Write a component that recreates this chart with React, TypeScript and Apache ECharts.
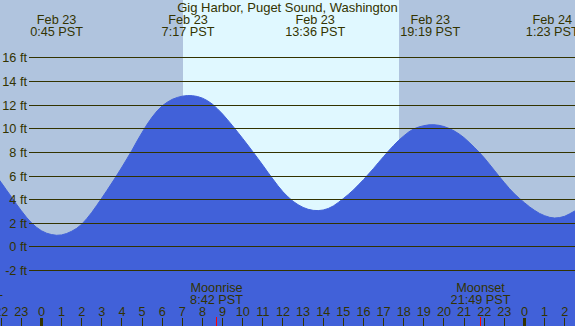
import React, { useEffect, useRef } from "react";
import * as echarts from "echarts";

const TITLE = "Gig Harbor, Puget Sound, Washington";

// hours from Feb 23 00:00 PST, read every quarter hour off the curve
const tideHours = [
  -2.5, -2.25, -2.0, -1.75, -1.5, -1.25, -1.0, -0.75, -0.5, -0.25, 0.0, 0.25, 0.5, 0.75, 1.0, 1.25, 1.5, 1.75,
  2.0, 2.25, 2.5, 2.75, 3.0, 3.25, 3.5, 3.75, 4.0, 4.25, 4.5, 4.75, 5.0, 5.25, 5.5, 5.75, 6.0, 6.25, 6.5, 6.75,
  7.0, 7.25, 7.5, 7.75, 8.0, 8.25, 8.5, 8.75, 9.0, 9.25, 9.5, 9.75, 10.0, 10.25, 10.5, 10.75, 11.0, 11.25, 11.5,
  11.75, 12.0, 12.25, 12.5, 12.75, 13.0, 13.25, 13.5, 13.75, 14.0, 14.25, 14.5, 14.75, 15.0, 15.25, 15.5, 15.75,
  16.0, 16.25, 16.5, 16.75, 17.0, 17.25, 17.5, 17.75, 18.0, 18.25, 18.5, 18.75, 19.0, 19.25, 19.5, 19.75, 20.0,
  20.25, 20.5, 20.75, 21.0, 21.25, 21.5, 21.75, 22.0, 22.25, 22.5, 22.75, 23.0, 23.25, 23.5, 23.75, 24.0, 24.25,
  24.5, 24.75, 25.0, 25.25, 25.5, 25.75, 26.0, 26.25, 26.5, 26.75, 27.0,
];
const tideFeet = [
  6.55, 5.98, 5.4, 4.8, 4.2, 3.59, 3.02, 2.47, 2.0, 1.62, 1.32, 1.12, 1.0, 0.94, 0.97, 1.09, 1.28, 1.53,
  1.88, 2.35, 2.88, 3.48, 4.1, 4.73, 5.38, 6.04, 6.72, 7.43, 8.15, 8.92, 9.65, 10.34, 10.95, 11.48, 11.9, 12.21,
  12.45, 12.61, 12.72, 12.77, 12.76, 12.69, 12.55, 12.33, 12.03, 11.64, 11.2, 10.71, 10.2, 9.67, 9.13, 8.58,
  8.02, 7.45, 6.87, 6.27, 5.7, 5.13, 4.62, 4.19, 3.82, 3.53, 3.3, 3.14, 3.05, 3.03, 3.08, 3.21, 3.42, 3.72,
  4.05, 4.4, 4.78, 5.21, 5.65, 6.12, 6.6, 7.11, 7.6, 8.09, 8.55, 8.98, 9.35, 9.69, 9.95, 10.11, 10.22, 10.29,
  10.3, 10.25, 10.15, 9.99, 9.78, 9.52, 9.2, 8.81, 8.4, 7.97, 7.5, 6.98, 6.45, 5.91, 5.4, 4.9, 4.45, 4.06,
  3.7, 3.35, 3.05, 2.79, 2.6, 2.46, 2.4, 2.44, 2.55, 2.76, 3.0, 3.3, 3.6,
];

const extremaHours = [0.75, 7.283, 13.6, 19.317, 25.383];
const extremaDates = ["Feb 23", "Feb 23", "Feb 23", "Feb 23", "Feb 24"];
const extremaTimes = ["0:45 PST", "7:17 PST", "13:36 PST", "19:19 PST", "1:23 PST"];

const hourTickValues = [
  -2, -1, 0, 1, 2, 3, 4, 5, 6, 7, 8, 9, 10, 11, 12, 13, 14, 15, 16, 17, 18, 19, 20, 21, 22, 23, 24, 25, 26,
];
const hourTickLabels = [
  "22", "23", "0", "1", "2", "3", "4", "5", "6", "7", "8", "9", "10", "11", "12", "13", "14", "15", "16", "17",
  "18", "19", "20", "21", "22", "23", "0", "1", "2",
];
const midnightHours = [0, 24];

const moonHours = [-3.417, 8.7, 21.817];
const moonNames = ["Moonset", "Moonrise", "Moonset"];
const moonTimes = ["20:35 PST", "8:42 PST", "21:49 PST"];

const sunriseHour = 7.03;
const sunsetHour = 17.77;

const gridFeet = [-2, 0, 2, 4, 6, 8, 10, 12, 14, 16];

const X_MIN = -2.062;
const X_MAX = 26.511;
const Y_MIN = -6.74;
const Y_MAX = 20.86;

const NIGHT = "#b0c4de";
const DAY = "#e0f8ff";
const WATER = "#4161d9";
const INK = "#333300";
const FONT_FAMILY = '"Liberation Sans", Arial, Helvetica, sans-serif';
const FS = 12.7;

function txt(text: string, x: number, y: number, align = "center") {
  return {
    type: "text",
    x,
    y,
    style: {
      text,
      fill: INK,
      fontSize: FS,
      fontFamily: FONT_FAMILY,
      align,
      verticalAlign: "middle",
    },
  };
}

export default function App() {
  const ref = useRef<HTMLDivElement>(null);

  useEffect(() => {
    if (!ref.current) return;
    const chart = echarts.init(ref.current, undefined, { renderer: "svg" });

    const option: any = {
      animation: false,
      backgroundColor: NIGHT,
      title: {
        text: TITLE,
        left: "center",
        top: 1,
        padding: 0,
        textStyle: { fontSize: 13, fontWeight: "normal", color: INK, fontFamily: FONT_FAMILY },
      },
      grid: { left: 0, right: 0, top: 0, bottom: 0 },
      xAxis: { type: "value", min: X_MIN, max: X_MAX, show: false },
      yAxis: { type: "value", min: Y_MIN, max: Y_MAX, show: false },
      series: [
        {
          type: "custom",
          z: 1,
          silent: true,
          clip: true,
          data: [[sunriseHour, sunsetHour, Y_MIN]],
          encode: { x: [0, 1], y: 2 },
          renderItem: (params: any, api: any) => {
            const p0 = api.coord([api.value(0), Y_MAX]);
            const p1 = api.coord([api.value(1), Y_MIN]);
            const x0 = Math.round(p0[0]);
            const x1 = Math.round(p1[0]);
            return {
              type: "rect",
              shape: { x: x0, y: p0[1], width: x1 - x0, height: p1[1] - p0[1] },
              style: { fill: DAY },
            };
          },
        },
        {
          type: "line",
          z: 2,
          data: tideHours.map((h, i) => [h, tideFeet[i]]),
          showSymbol: false,
          smooth: false,
          clip: true,
          lineStyle: { color: WATER, width: 1 },
          areaStyle: { color: WATER, opacity: 1, origin: "start" },
          silent: true,
        },
        {
          type: "custom",
          z: 3,
          silent: true,
          clip: false,
          data: gridFeet.map((v) => [X_MIN, v]),
          encode: { x: 0, y: 1 },
          renderItem: (params: any, api: any) => {
            const v = api.value(1);
            const y = Math.round(api.coord([0, v])[1]) + 0.5;
            const w = api.getWidth();
            return {
              type: "group",
              children: [
                {
                  type: "line",
                  shape: { x1: 29, y1: y, x2: w, y2: y },
                  style: { stroke: INK, lineWidth: 1 },
                },
                txt(`${v} ft`, 27, y, "right"),
              ],
            };
          },
        },
        {
          type: "custom",
          z: 4,
          silent: true,
          clip: false,
          data: hourTickValues.map((h) => [h, Y_MIN]),
          encode: { x: 0, y: 1 },
          renderItem: (params: any, api: any) => {
            const h = api.value(0);
            const x = api.coord([h, 0])[0];
            const H = api.getHeight();
            const thick = midnightHours.indexOf(h) >= 0;
            return {
              type: "group",
              children: [
                {
                  type: "rect",
                  shape: thick
                    ? { x: Math.round(x - 1.5), y: H - 8, width: 3, height: 8 }
                    : { x: Math.round(x - 0.5), y: H - 8, width: 1, height: 8 },
                  style: { fill: INK },
                },
                txt(hourTickLabels[params.dataIndex], x, H - 14),
              ],
            };
          },
        },
        {
          type: "custom",
          z: 5,
          silent: true,
          clip: false,
          data: moonHours.map((h) => [h, Y_MIN]),
          encode: { x: 0, y: 1 },
          renderItem: (params: any, api: any) => {
            const h = api.value(0);
            const x = api.coord([h, 0])[0];
            const H = api.getHeight();
            const i = params.dataIndex;
            return {
              type: "group",
              children: [
                {
                  type: "rect",
                  shape: { x: Math.round(x - 0.5), y: H - 9, width: 1, height: 9 },
                  style: { fill: "#ff0000" },
                },
                txt(moonNames[i], x, H - 38),
                txt(moonTimes[i], x, H - 26),
              ],
            };
          },
        },
        {
          type: "custom",
          z: 5,
          silent: true,
          clip: false,
          data: extremaHours.map((h) => [h, Y_MAX]),
          encode: { x: 0, y: 1 },
          renderItem: (params: any, api: any) => {
            const h = api.value(0);
            const x = api.coord([h, 0])[0];
            const i = params.dataIndex;
            return {
              type: "group",
              children: [txt(extremaDates[i], x, 19.5), txt(extremaTimes[i], x, 31.5)],
            };
          },
        },
      ],
    };

    chart.setOption(option);
    return () => chart.dispose();
  }, []);

  return (
    <div
      ref={ref}
      style={{ position: "absolute", left: 0, top: 0, width: 575, height: 326, overflow: "hidden" }}
    />
  );
}
